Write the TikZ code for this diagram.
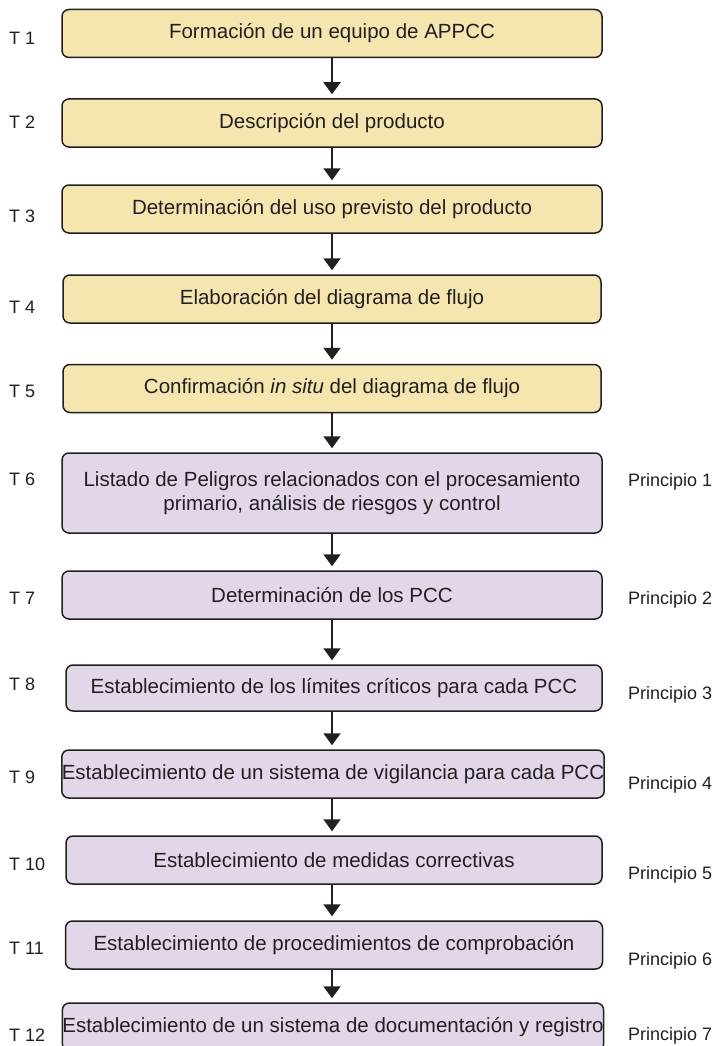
\documentclass[tikz,border=0pt]{standalone}
\usepackage{fontspec}
\setmainfont{Liberation Sans}
\usetikzlibrary{arrows.meta}
\definecolor{amarillo}{RGB}{245,230,176}
\definecolor{lila}{RGB}{226,214,233}
\definecolor{tinta}{RGB}{35,31,32}
\tikzset{
  tarea/.style={draw=tinta, line width=1.5pt, rounded corners=7pt, minimum width=540pt,
    minimum height=48pt, inner sep=0pt, align=center, text=tinta,
    font=\fontsize{20.5}{24}\selectfont},
  etiq/.style={anchor=base west, inner sep=0pt, text=tinta, font=\fontsize{18}{20}\selectfont},
  flecha/.style={draw=tinta, line width=2pt, -{Triangle[width=17pt,length=12pt]}, shorten >=4pt}
}
\begin{document}
\begin{tikzpicture}[x=1pt, y=1pt]
\clip (0,0) rectangle (714,-1046);

\node[tarea, fill=amarillo] (t1) at (332,-33.5) {Formación de un equipo de APPCC};
\node[tarea, fill=amarillo] (t2) at (332,-123) {Descripción del producto};
\node[tarea, fill=amarillo] (t3) at (332,-209) {Determinación del uso previsto del producto};
\node[tarea, fill=amarillo, minimum width=538pt] (t4) at (332,-299) {Elaboración del diagrama de flujo};
\node[tarea, fill=amarillo, minimum width=538pt] (t5) at (332,-388.5) {Confirmación \textit{in situ} del diagrama de flujo};
\node[tarea, fill=lila, minimum height=80pt] (t6) at (332,-493) {Listado de Peligros relacionados con el procesamiento\\primario, análisis de riesgos y control};
\node[tarea, fill=lila] (t7) at (332,-595) {Determinación de los PCC};
\node[tarea, fill=lila, minimum width=536pt, minimum height=46pt] (t8) at (334,-688) {Establecimiento de los límites críticos para cada PCC};
\node[tarea, fill=lila] (t9) at (333,-774) {Establecimiento de un sistema de vigilancia para cada PCC};
\node[tarea, fill=lila, minimum width=536pt] (t10) at (334,-860) {Establecimiento de medidas correctivas};
\node[tarea, fill=lila, minimum width=537pt] (t11) at (334,-945) {Establecimiento de procedimientos de comprobación};
\node[tarea, fill=lila] (t12) at (333,-1027) {Establecimiento de un sistema de documentación y registro};

\draw[flecha] (t1.south) -- (t1.south |- t2.north);
\draw[flecha] (t2.south) -- (t2.south |- t3.north);
\draw[flecha] (t3.south) -- (t3.south |- t4.north);
\draw[flecha] (t4.south) -- (t4.south |- t5.north);
\draw[flecha] (t5.south) -- (t5.south |- t6.north);
\draw[flecha] (t6.south) -- (t6.south |- t7.north);
\draw[flecha] (t7.south) -- (t7.south |- t8.north);
\draw[flecha] (t8.south -| t7.south) -- (t7.south |- t9.north);
\draw[flecha] (t9.south -| t7.south) -- (t7.south |- t10.north);
\draw[flecha] (t10.south -| t7.south) -- (t7.south |- t11.north);
\draw[flecha] (t11.south -| t7.south) -- (t7.south |- t12.north);

\node[etiq] (n1) at (9,-44.5) {T 1};
\node[etiq] (n2) at (9,-128.5) {T 2};
\node[etiq] (n3) at (9,-222.5) {T 3};
\node[etiq] (n4) at (9,-313.5) {T 4};
\node[etiq] (n5) at (9,-397.5) {T 5};
\node[etiq] (n6) at (9,-485.5) {T 6};
\node[etiq] (n7) at (9,-604.5) {T 7};
\node[etiq] (n8) at (9,-690.5) {T 8};
\node[etiq] (n9) at (9,-783.5) {T 9};
\node[etiq] (n10) at (9,-870.5) {T 10};
\node[etiq] (n11) at (9,-954.5) {T 11};
\node[etiq] (n12) at (9,-1041.5) {T 12};

\node[etiq] (p1) at (628,-486.5) {Principio 1};
\node[etiq] (p2) at (628,-604.5) {Principio 2};
\node[etiq] (p3) at (628,-699.5) {Principio 3};
\node[etiq] (p4) at (628,-789.5) {Principio 4};
\node[etiq] (p5) at (628,-879.5) {Principio 5};
\node[etiq] (p6) at (628,-965.5) {Principio 6};
\node[etiq] (p7) at (628,-1040.5) {Principio 7};
\end{tikzpicture}
\end{document}
